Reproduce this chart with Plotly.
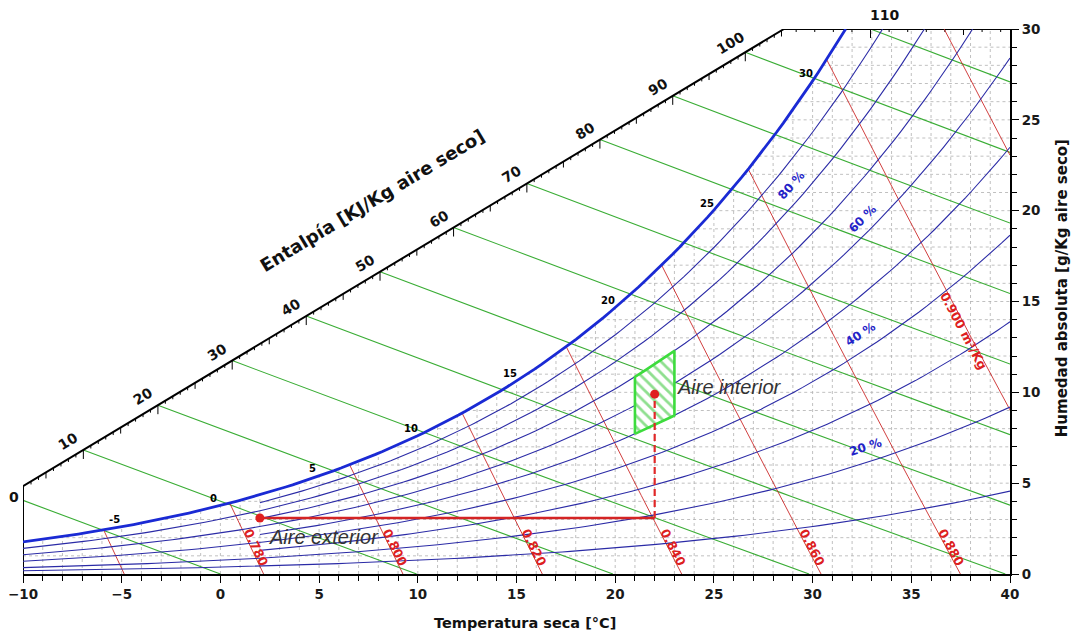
import numpy as np
import plotly.graph_objects as go

# ---------------- data ----------------
P_ATM = 101.325
T_RANGE = [-10, 40]
W_RANGE = [0, 30]
X_TICKS = list(range(-10, 41, 5))
Y_TICKS = list(range(0, 31, 5))

RH_FULL = [10, 20, 40, 60, 80]       # drawn from -10 °C
RH_PART = [30, 50, 70, 90]           # drawn from 2 °C
RH_PART_START = 2.0
ENTHALPY = list(range(0, 111, 10))
ENTH_TICKS = list(range(1, 118))
VOLUMES = [0.76, 0.78, 0.80, 0.82, 0.84, 0.86, 0.88, 0.90, 0.92]
VOL_LABELS = {0.78: "0.780", 0.80: "0.800", 0.82: "0.820", 0.84: "0.840",
              0.86: "0.860", 0.88: "0.880", 0.90: "0.900 m³/Kg"}
VOL_LABEL_W = {0.78: 1.45, 0.80: 1.45, 0.82: 1.45, 0.84: 1.45,
               0.86: 1.45, 0.88: 1.45, 0.90: 13.4}
WB_LABELS = [-5, 0, 5, 10, 15, 20, 25, 30]
RH_LABEL_RH = [80, 60, 40, 20]
RH_LABEL_TXT = ["80 %", "60 %", "40 %", "20 %"]
RH_LABEL_T = [28.94, 32.52, 32.45, 32.69]
RH_LABEL_W = [21.4, 19.55, 13.2, 7.0]
EXT_T, EXT_W = 2.0, 3.08
INT_T, INT_W = 22.0, 9.9
ZONE_T = [21, 23]
ZONE_RH = [50, 70]
# enthalpy scale (diagonal) end points
SCALE_START_W = 4.83
SCALE_END_T = 28.55

# ---------------- geometry helpers ----------------
# the page body has an 8px margin: figure is 1063x623 drawn at (8, 8)
W_PX, H_PX = 1063, 623
ML, MR, MT, MB = 15, 61, 21, 57
KX = (W_PX - ML - MR) / (T_RANGE[1] - T_RANGE[0])
KY = (H_PX - MT - MB) / (W_RANGE[1] - W_RANGE[0])
F_REG = "DejaVu Sans"
F_TXT = "Liberation Sans"


def ps(T):
    return 0.61094 * np.exp(17.625 * T / (T + 243.04))


def w_rh(T, rh):
    p = rh / 100.0 * ps(T)
    return 622.0 * p / (P_ATM - p)


def t_dew(w):
    pw = w * P_ATM / (622.0 + w)
    a = np.log(pw / 0.61094)
    return 243.04 * a / (17.625 - a)


def w_h(T, h):
    return (h - 1.006 * T) / (2.501 + 0.00186 * T)


def w_scale(T):
    return SCALE_START_W + (T + 10) * (30 - SCALE_START_W) / (SCALE_END_T + 10)


def t_vol(W, v):
    return v * P_ATM / (0.287042 * (1 + 1.607858 * W / 1000.0)) - 273.15


def bisect(f, a, b, n=80):
    fa = f(a)
    for _ in range(n):
        m = 0.5 * (a + b)
        fm = f(m)
        if (fm > 0) == (fa > 0):
            a, fa = m, fm
        else:
            b = m
    return 0.5 * (a + b)


def px_angle(dT, dW):
    return np.degrees(np.arctan2(dW * KY, dT * KX))


fig = go.Figure()

# ---------------- dashed grid under saturation ----------------
gx, gy = [], []
for T in range(-9, 40):
    top = min(w_rh(T, 100), 30)
    gx += [T, T, None]
    gy += [0, top, None]
for w in range(1, 30):
    left = max(t_dew(w), -10)
    gx += [left, 40, None]
    gy += [w, w, None]
fig.add_trace(go.Scatter(x=gx, y=gy, mode="lines", hoverinfo="skip",
                         line=dict(color="#b0b0b0", width=0.8, dash="3px,3px")))

# ---------------- enthalpy lines ----------------
def enth_start(h):
    if w_h(-10, h) <= w_scale(-10):
        return -10.0, w_h(-10, h), "left"
    Ts = bisect(lambda T: w_h(T, h) - w_scale(T), -10, 40)
    if Ts <= SCALE_END_T:
        return Ts, w_h(Ts, h), "diag"
    Ts = bisect(lambda T: w_h(T, h) - 30, -10, 60)
    return Ts, 30.0, "top"


for h in ENTHALPY:
    Ts, Ws, kind = enth_start(h)
    Te = min(h / 1.006, 40)
    Tg = np.linspace(Ts, Te, 60)
    fig.add_trace(go.Scatter(x=Tg, y=np.maximum(w_h(Tg, h), 0), mode="lines",
                             hoverinfo="skip", line=dict(color="#3aad35", width=1.1)))

# enthalpy scale line + ticks
fig.add_trace(go.Scatter(x=[-10, -10, SCALE_END_T, 40], y=[0, SCALE_START_W, 30, 30],
                         mode="lines", hoverinfo="skip",
                         line=dict(color="black", width=2.0)))
tx, ty = [], []
for h in ENTH_TICKS:
    Ts, Ws, kind = enth_start(h)
    if kind == "left" or Ts > 40:
        continue
    L = 9 if h % 10 == 0 else (6 if h % 5 == 0 else 3)
    tx += [Ts, Ts, None]
    ty += [Ws, Ws - L / KY, None]
fig.add_trace(go.Scatter(x=tx, y=ty, mode="lines", hoverinfo="skip",
                         line=dict(color="black", width=1)))

# ---------------- specific volume lines ----------------
def vol_segment(v):
    g = lambda W: W - w_rh(t_vol(W, v), 100)
    if g(30) < 0:
        W0 = 30.0
    else:
        W0 = bisect(g, 0, 30)
    if t_vol(0, v) > 40:
        W1 = (v * P_ATM / (0.287042 * 313.15) - 1) / 1.607858 * 1000
    else:
        W1 = 0.0
    return W0, W1


for v in VOLUMES:
    W0, W1 = vol_segment(v)
    Wg = np.linspace(W0, W1, 30)
    fig.add_trace(go.Scatter(x=t_vol(Wg, v), y=Wg, mode="lines", hoverinfo="skip",
                             line=dict(color="#cc2a2a", width=0.9)))

# ---------------- relative humidity lines ----------------
def rh_curve(rh, T0):
    Tend = 40.0
    if w_rh(40, rh) > 30:
        Tend = bisect(lambda T: w_rh(T, rh) - 30, T0, 40)
    Tg = np.linspace(T0, Tend, 120)
    return Tg, w_rh(Tg, rh)


for rh in RH_FULL:
    Tg, Wg = rh_curve(rh, -10)
    fig.add_trace(go.Scatter(x=Tg, y=Wg, mode="lines", hoverinfo="skip",
                             line=dict(color="#2b2ba6", width=1.1)))
for rh in RH_PART:
    Tg, Wg = rh_curve(rh, RH_PART_START)
    fig.add_trace(go.Scatter(x=Tg, y=Wg, mode="lines", hoverinfo="skip",
                             line=dict(color="#2b2ba6", width=1.1)))
Tg, Wg = rh_curve(100, -10)
fig.add_trace(go.Scatter(x=Tg, y=Wg, mode="lines", hoverinfo="skip",
                         line=dict(color="#1a2ad4", width=2.8)))

# ---------------- comfort zone ----------------
Tz1 = np.linspace(ZONE_T[0], ZONE_T[1], 20)
zx = list(Tz1) + list(Tz1[::-1]) + [Tz1[0]]
zy = list(w_rh(Tz1, ZONE_RH[0])) + list(w_rh(Tz1[::-1], ZONE_RH[1])) + [w_rh(Tz1[0], ZONE_RH[0])]
fig.add_trace(go.Scatter(x=zx, y=zy, mode="lines", fill="toself", hoverinfo="skip",
                         fillcolor="white",
                         fillpattern=dict(shape="\\", fgcolor="#1fbf1f", bgcolor="white",
                                          size=8, solidity=0.35),
                         line=dict(color="#3ddc3d", width=2.6)))

# ---------------- process lines and points ----------------
fig.add_trace(go.Scatter(x=[EXT_T, INT_T], y=[EXT_W, EXT_W], mode="lines", hoverinfo="skip",
                         line=dict(color="#d42424", width=2.6)))
fig.add_trace(go.Scatter(x=[INT_T, INT_T], y=[EXT_W, INT_W], mode="lines", hoverinfo="skip",
                         line=dict(color="#e02828", width=2.2, dash="7px,4px")))
fig.add_trace(go.Scatter(x=[EXT_T, INT_T], y=[EXT_W, INT_W], mode="markers", hoverinfo="skip",
                         marker=dict(color="#e02020", size=9)))

ann = []
scale_ang = -px_angle(SCALE_END_T + 10, 30 - SCALE_START_W)
# enthalpy labels
for h in ENTHALPY:
    Ts, Ws, kind = enth_start(h)
    if kind == "left":
        d = dict(x=Ts, y=Ws, xshift=-9, yshift=3, textangle=0)
    elif kind == "diag":
        d = dict(x=Ts, y=Ws, xshift=-15, yshift=9, textangle=scale_ang)
    else:
        d = dict(x=Ts, y=Ws, xshift=14, yshift=14, textangle=0)
    d.update(text="<b>%d</b>" % h, showarrow=False, xanchor="center", yanchor="middle",
             font=dict(family=F_REG, size=14, color="#111111"))
    ann.append(d)

# enthalpy title
ann.append(dict(x=7.68, y=20.58, text="<b>Entalpía [KJ/Kg aire seco]</b>", showarrow=False,
                textangle=scale_ang,
                font=dict(family=F_REG, size=18, color="#111111")))

# wet bulb labels on saturation curve
for t in WB_LABELS:
    ann.append(dict(x=t, y=w_rh(t, 100), text="<b>%d</b>" % t, showarrow=False,
                    xshift=-7, yshift=7,
                    font=dict(family=F_REG, size=10, color="black")))

# RH labels
for rh, txt, t, w in zip(RH_LABEL_RH, RH_LABEL_TXT, RH_LABEL_T, RH_LABEL_W):
    dT = 0.2
    dW = w_rh(t + dT, rh) - w_rh(t - dT, rh)
    ann.append(dict(x=t, y=w, text="<b>%s</b>" % txt, showarrow=False,
                    textangle=-px_angle(2 * dT, dW),
                    font=dict(family=F_REG, size=12, color="#2323c8")))

# volume labels
for v, txt in VOL_LABELS.items():
    w = VOL_LABEL_W[v]
    t = t_vol(w, v)
    ang = px_angle(t_vol(w - 0.5, v) - t_vol(w + 0.5, v), 1.0)
    ann.append(dict(x=t, y=w, text="<b>%s</b>" % txt, showarrow=False,
                    xshift=5 if v < 0.9 else -4, textangle=ang,
                    font=dict(family=F_REG, size=12.5, color="#dd2020")))

# point labels
ann.append(dict(x=EXT_T + 3.25, y=EXT_W - 1.04, text="<i>Aire exterior</i>", showarrow=False,
                font=dict(family=F_TXT, size=20, color="#333333")))
ann.append(dict(x=INT_T + 3.77, y=INT_W + 0.39, text="<i>Aire interior</i>", showarrow=False,
                font=dict(family=F_TXT, size=20, color="#333333")))

# axis titles
ann.append(dict(xref="paper", yref="paper", x=0.5086, y=-0.09, text="<b>Temperatura seca [°C]</b>",
                showarrow=False, yanchor="middle",
                font=dict(family=F_REG, size=14.5, color="#111111")))
ann.append(dict(xref="paper", yref="paper", x=1.053, y=0.525,
                text="<b>Humedad absoluta [g/Kg aire seco]</b>", textangle=-90,
                showarrow=False, xanchor="center", yanchor="middle",
                font=dict(family=F_REG, size=15, color="#111111")))

fig.update_layout(
    width=W_PX, height=H_PX,
    margin=dict(l=ML, r=MR, t=MT, b=MB),
    paper_bgcolor="white", plot_bgcolor="white",
    showlegend=False, annotations=ann,
    xaxis=dict(range=T_RANGE, tickvals=X_TICKS, ticks="outside", ticklen=7, tickwidth=1,
               tickcolor="black", showline=True, linecolor="black", linewidth=2,
               showgrid=False, zeroline=False, automargin=False, ticklabeloverflow="allow",
               minor=dict(dtick=1, tick0=-10, ticks="outside", ticklen=5, tickcolor="black"),
               tickfont=dict(family=F_REG, size=13.5, color="#1a1a1a", weight="bold")),
    yaxis=dict(range=W_RANGE, tickvals=Y_TICKS, side="right", ticks="outside", ticklen=7,
               tickwidth=1, tickcolor="black", showline=True, linecolor="black", linewidth=2,
               showgrid=False, zeroline=False, automargin=False, ticklabeloverflow="allow",
               minor=dict(dtick=1, tick0=0, ticks="outside", ticklen=5, tickcolor="black"),
               tickfont=dict(family=F_REG, size=13.5, color="#1a1a1a", weight="bold")),
)

fig.write_html("out.html")
